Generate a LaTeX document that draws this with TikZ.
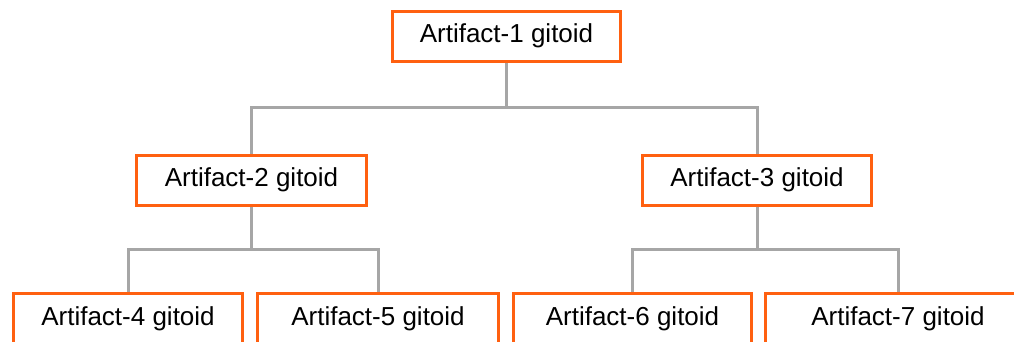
\documentclass[tikz,border=0pt]{standalone}
\usepackage{fontspec}
\setmainfont{Liberation Sans}
\usetikzlibrary{backgrounds}
\definecolor{boxorange}{HTML}{FF6010}
\definecolor{linkgray}{HTML}{A6A6A6}
\begin{document}
\begin{tikzpicture}[x=1pt,y=-1pt,
  gitbox/.style={draw=boxorange, line width=3pt, fill=white,
    minimum height=50pt, inner sep=0pt,
    font=\fontsize{26}{31}\selectfont},
  link/.style={draw=linkgray, line width=3pt}]
\useasboundingbox (0,0) rectangle (1014,341);
\clip (0,0) rectangle (1014,341);

% tree levels
\node[gitbox, minimum width=228pt] (a1) at (506.5,36)  {Artifact-1 gitoid};
\node[gitbox, minimum width=230pt] (a2) at (251.5,180) {Artifact-2 gitoid};
\node[gitbox, minimum width=229pt] (a3) at (757,180)   {Artifact-3 gitoid};
\node[gitbox, minimum width=229pt] (a4) at (128,318.5)   {Artifact-4 gitoid};
\node[gitbox, minimum width=241pt] (a5) at (378,318.5)   {Artifact-5 gitoid};
\node[gitbox, minimum width=238pt] (a6) at (632.5,318.5) {Artifact-6 gitoid};
\node[gitbox, minimum width=265pt] (a7) at (898,318.5)   {Artifact-7 gitoid};

% branch bars
\coordinate (b1) at (0,107);
\coordinate (b2) at (0,249);

\begin{pgfonlayer}{background}
\draw[link] (a1.south) -- (a1.south |- b1);
\draw[link] (a2.north) |- (a1.south |- b1) -| (a3.north);
\draw[link] (a2.south) -- (a2.south |- b2);
\draw[link] (a4.north) |- (a2.south |- b2) -| (a5.north);
\draw[link] (a3.south) -- (a3.south |- b2);
\draw[link] (a6.north) |- (a3.south |- b2) -| (a7.north);
\end{pgfonlayer}
\end{tikzpicture}
\end{document}
